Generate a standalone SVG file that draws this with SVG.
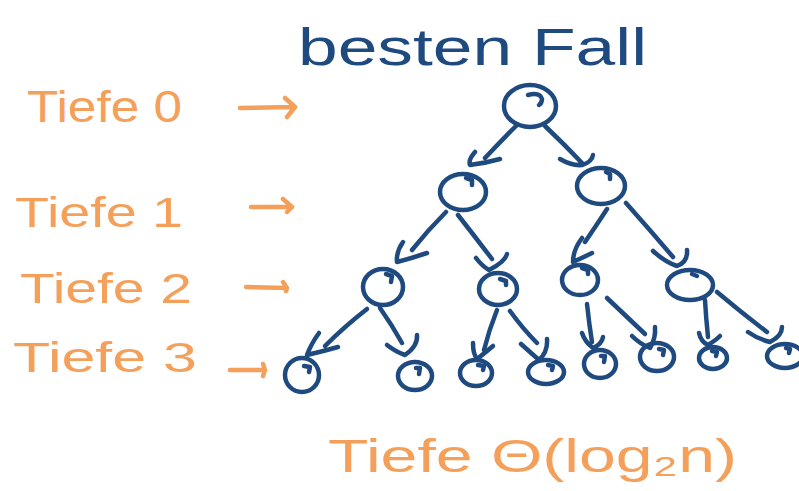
<svg xmlns="http://www.w3.org/2000/svg" width="799" height="491" viewBox="0 0 799 491">
  <style>
    .ink { fill: none; stroke: #1F4A80; stroke-width: 4.5; stroke-linecap: round; stroke-linejoin: round; }
    .pen { fill: none; stroke: #F4A05A; stroke-width: 4.5; stroke-linecap: round; stroke-linejoin: round; }
    .lbl { fill: #F4A05A; font-family: "Liberation Sans", Arial, sans-serif; }
    .title { fill: #1F4A80; font-family: "Liberation Sans", Arial, sans-serif; }
  </style>
  <rect width="799" height="491" fill="#ffffff"/>

  <!-- heading -->
  <text class="title" x="298" y="65" font-size="52" textLength="349" lengthAdjust="spacingAndGlyphs">besten Fall</text>

  <!-- depth labels -->
  <g id="labels">
    <text class="lbl" x="27" y="122" font-size="44" textLength="155" lengthAdjust="spacingAndGlyphs">Tiefe 0</text>
    <text class="lbl" x="15" y="227" font-size="42" textLength="168" lengthAdjust="spacingAndGlyphs">Tiefe 1</text>
    <text class="lbl" x="20" y="303" font-size="42" textLength="172" lengthAdjust="spacingAndGlyphs">Tiefe 2</text>
    <text class="lbl" x="13" y="372" font-size="42" textLength="184" lengthAdjust="spacingAndGlyphs">Tiefe 3</text>
    <text class="lbl" x="328" y="472" font-size="46" textLength="409" lengthAdjust="spacingAndGlyphs">Tiefe Θ(log₂n)</text>
  </g>

  <!-- level pointers -->
  <g id="pointers">
    <path class="pen" d="M240,108 L295,107 M285,98 L295,107 L287,117"/>
    <path class="pen" d="M251,207 L292,207 M283,199 L292,207 L287,212"/>
    <path class="pen" d="M246,287 L287,288 M283,282 L287,288 L286,291"/>
    <path class="pen" d="M230,370 L265,370 M263,364 L265,370 L263,376"/>
  </g>

  <!-- tree nodes -->
  <g id="n0"><ellipse class="ink" cx="530" cy="106" rx="26" ry="21"/><path class="ink" d="M528,95 Q540,92 542,99 Q542,103 539,105"/></g>
  <g id="n1a"><ellipse class="ink" cx="463" cy="192" rx="23" ry="18"/><path class="ink" d="M466,178 L472,180 L472,185"/></g>
  <g id="n1b"><ellipse class="ink" cx="601" cy="186" rx="24" ry="18"/><path class="ink" d="M606,172 L610,174 L610,179"/></g>
  <g id="n2a"><ellipse class="ink" cx="383" cy="287" rx="20" ry="18"/><path class="ink" d="M386,274 L392,276 L391,282"/></g>
  <g id="n2b"><ellipse class="ink" cx="498" cy="289" rx="19" ry="16"/><path class="ink" d="M500,279 L506,281 L506,285"/></g>
  <g id="n2c"><ellipse class="ink" cx="580" cy="280" rx="18" ry="15"/><path class="ink" d="M582,268 L588,270 L588,274"/></g>
  <g id="n2d"><ellipse class="ink" cx="690" cy="285" rx="23" ry="15"/><path class="ink" d="M692,274 L697,276"/></g>
  <g id="n3a"><ellipse class="ink" cx="302" cy="375" rx="17" ry="17"/><path class="ink" d="M304,366 L310,367 L309,372"/></g>
  <g id="n3b"><ellipse class="ink" cx="415" cy="376" rx="17" ry="14"/><path class="ink" d="M416,368 L420,368 L419,374"/></g>
  <g id="n3c"><ellipse class="ink" cx="476" cy="373" rx="16" ry="13"/><path class="ink" d="M478,365 L484,366 L483,370"/></g>
  <g id="n3d"><ellipse class="ink" cx="546" cy="372" rx="18" ry="12"/><path class="ink" d="M548,365 L553,366 L552,370"/></g>
  <g id="n3e"><ellipse class="ink" cx="600" cy="364" rx="16" ry="14"/><path class="ink" d="M601,356 L605,356 L604,362"/></g>
  <g id="n3f"><ellipse class="ink" cx="657" cy="357" rx="17" ry="14"/><path class="ink" d="M659,349 L664,350 L663,355"/></g>
  <g id="n3g"><ellipse class="ink" cx="713" cy="358" rx="14" ry="11"/><path class="ink" d="M712,351 L717,352 L716,356"/></g>
  <g id="n3h"><ellipse class="ink" cx="785" cy="356" rx="18" ry="12"/><path class="ink" d="M786,348 L790,349 L789,353"/></g>

  <!-- connectors -->
  <g id="edges" class="ink">
    <path d="M517,125 Q500,142 485,158 M475,152 Q468,160 470,165 Q486,163 500,159"/>
    <path d="M545,126 Q565,145 582,163 M560,159 Q572,166 582,165 Q592,162 593,155"/>

    <path d="M446,212 Q428,230 412,250 M403,242 Q396,252 397,262 Q412,258 427,253"/>
    <path d="M458,215 Q476,238 492,259 M476,258 Q482,266 489,270 Q505,262 507,254"/>
    <path d="M607,209 Q596,226 585,242 M582,238 Q573,250 573,262 Q584,257 592,253"/>
    <path d="M626,203 Q650,230 673,257 M653,251 Q665,262 677,266 Q688,262 687,250"/>

    <path d="M367,309 Q345,326 325,346 M319,333 Q311,344 307,355 Q324,351 338,347"/>
    <path d="M380,308 Q392,325 402,343 M387,345 Q396,352 405,355 Q418,346 417,335"/>
    <path d="M497,310 Q489,330 484,350 M473,343 Q473,354 477,359 Q486,352 493,346"/>
    <path d="M510,311 Q523,329 537,343 M521,344 Q530,352 539,360 Q548,352 547,339"/>
    <path d="M587,304 Q589,323 592,342 M582,333 Q585,342 593,348 Q602,344 603,337"/>
    <path d="M607,298 Q627,317 645,334 M632,336 Q640,344 650,348 Q656,338 655,327"/>
    <path d="M705,300 Q706,318 708,337 M699,333 Q701,342 708,345 Q716,340 720,336"/>
    <path d="M717,292 Q742,313 767,332 M748,332 Q758,339 770,342 Q782,336 782,327"/>
  </g>
</svg>
